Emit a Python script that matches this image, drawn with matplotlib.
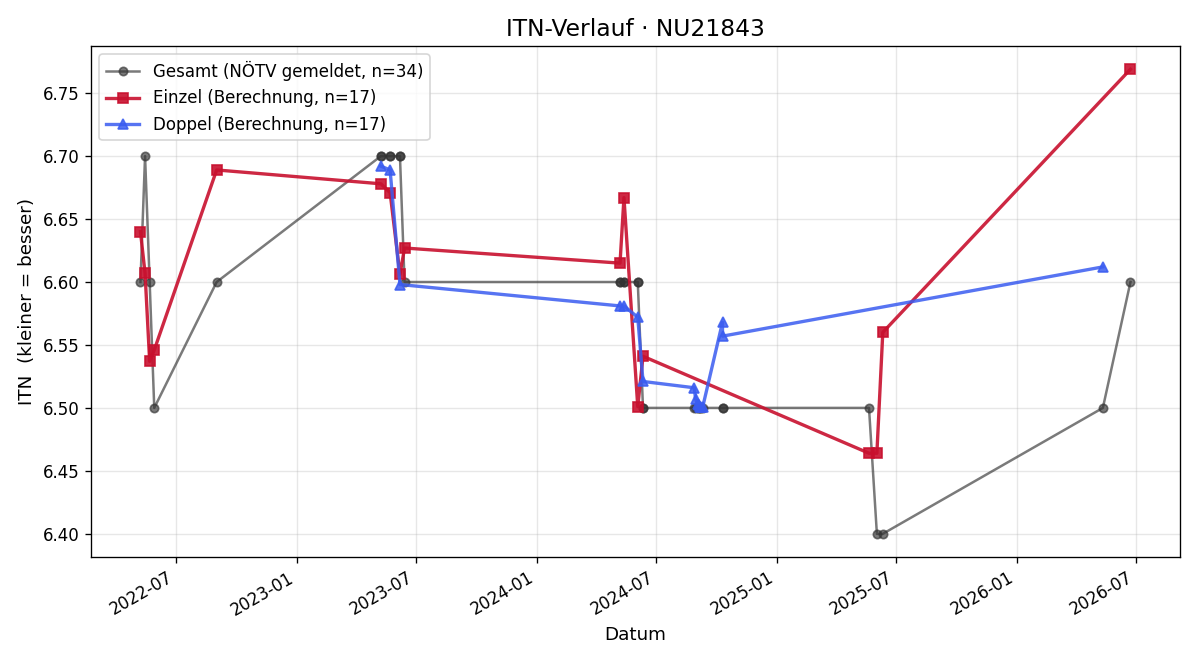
import matplotlib
matplotlib.use("Agg")
import matplotlib.pyplot as plt
import matplotlib.dates as mdates
import pandas as pd

# Gesamt (NÖTV gemeldet)
gesamt_dates = [
    "2022-05-08", "2022-05-15", "2022-05-22", "2022-05-29", "2022-09-01",
    "2023-05-09", "2023-05-09", "2023-05-23", "2023-05-23", "2023-06-07", "2023-06-07", "2023-06-14",
    "2024-05-07", "2024-05-07", "2024-05-13", "2024-05-13", "2024-06-03", "2024-06-03",
    "2024-06-11", "2024-06-11",
    "2024-08-28", "2024-08-30", "2024-09-02", "2024-09-04", "2024-09-05", "2024-09-07",
    "2024-09-10", "2024-10-10", "2024-10-10",
    "2025-05-21", "2025-06-02", "2025-06-11",
    "2026-05-12", "2026-06-23",
]
gesamt_values = [
    6.60, 6.70, 6.60, 6.50, 6.60,
    6.70, 6.70, 6.70, 6.70, 6.70, 6.70, 6.60,
    6.60, 6.60, 6.60, 6.60, 6.60, 6.60,
    6.50, 6.50,
    6.50, 6.50, 6.50, 6.50, 6.50, 6.50,
    6.50, 6.50, 6.50,
    6.50, 6.40, 6.40,
    6.50, 6.60,
]

# Einzel (Berechnung)
einzel_dates = [
    "2022-05-08", "2022-05-15", "2022-05-22", "2022-05-29", "2022-09-01",
    "2023-05-09", "2023-05-23", "2023-06-07", "2023-06-14",
    "2024-05-07", "2024-05-13", "2024-06-03", "2024-06-11",
    "2025-05-21", "2025-06-02", "2025-06-11",
    "2026-06-23",
]
einzel_values = [
    6.640, 6.607, 6.537, 6.546, 6.689,
    6.678, 6.671, 6.606, 6.627,
    6.615, 6.667, 6.501, 6.541,
    6.464, 6.464, 6.560,
    6.769,
]

# Doppel (Berechnung)
doppel_dates = [
    "2023-05-09", "2023-05-23", "2023-06-07",
    "2024-05-07", "2024-05-13", "2024-06-03", "2024-06-11",
    "2024-08-28", "2024-08-30", "2024-09-02", "2024-09-04", "2024-09-05", "2024-09-07",
    "2024-09-10", "2024-10-10", "2024-10-10",
    "2026-05-12",
]
doppel_values = [
    6.692, 6.689, 6.598,
    6.581, 6.581, 6.572, 6.521,
    6.516, 6.507, 6.503, 6.502, 6.501, 6.501,
    6.501, 6.568, 6.557,
    6.612,
]

fig, ax = plt.subplots(figsize=(10, 5.5), dpi=120)
fig.subplots_adjust(left=0.0758, right=0.9833, top=0.9303, bottom=0.156)

ax.plot(pd.to_datetime(gesamt_dates), gesamt_values, marker="o", markersize=5,
        linewidth=1.5, color="#333333", alpha=0.65,
        label="Gesamt (NÖTV gemeldet, n=34)")
ax.plot(pd.to_datetime(einzel_dates), einzel_values, marker="s", markersize=6,
        linewidth=2, color="#c8102e", alpha=0.9,
        label="Einzel (Berechnung, n=17)")
ax.plot(pd.to_datetime(doppel_dates), doppel_values, marker="^", markersize=6,
        linewidth=2, color="#3a5cf0", alpha=0.85,
        label="Doppel (Berechnung, n=17)")

ax.set_title("ITN-Verlauf · NU21843", fontsize=14)
ax.set_xlabel("Datum", fontsize=11)
ax.set_ylabel("ITN  (kleiner = besser)", fontsize=11)
ax.grid(True, alpha=0.3)
ax.xaxis.set_major_locator(mdates.MonthLocator(bymonth=[1, 7]))
ax.xaxis.set_major_formatter(mdates.DateFormatter("%Y-%m"))
ax.legend(loc="upper left", fontsize=10)
for lbl in ax.get_xticklabels():
    lbl.set_rotation(30)
    lbl.set_ha("right")
fig.savefig("out.png", dpi=120)
